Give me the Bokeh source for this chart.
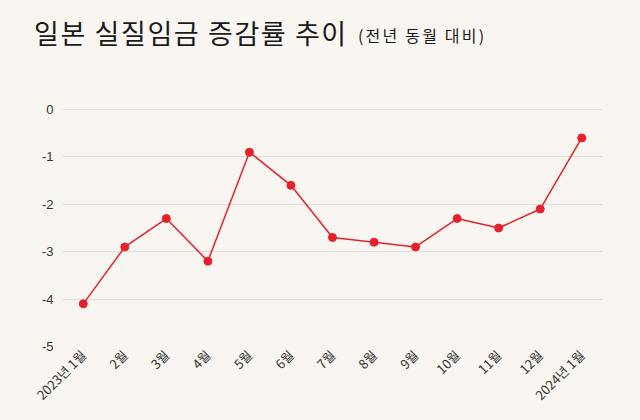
import numpy as np
from bokeh.plotting import figure
from bokeh.models import Range1d, FixedTicker, Span, Div
from bokeh.layouts import column
from bokeh.embed import file_html
from bokeh.resources import INLINE

months = ["2023년 1월", "2월", "3월", "4월", "5월", "6월", "7월", "8월", "9월", "10월", "11월", "12월", "2024년 1월"]
values = [-4.1, -2.9, -2.3, -3.2, -0.9, -1.6, -2.7, -2.8, -2.9, -2.3, -2.5, -2.1, -0.6]
y_ticks = [0, -1, -2, -3, -4, -5]
title_text = "일본 실질임금 증감률 추이"
subtitle_text = "(전년 동월 대비)"

BG = "#f9f6f1"
RED = "#e8202a"
KFONT = "Noto Sans CJK KR"
HEAD_H = 80

head = Div(width=640, height=HEAD_H, margin=0, text=(
    f'<div style="position:relative;width:640px;height:{HEAD_H}px;background:{BG};'
    f'font-family:\'{KFONT}\';color:#1a1a1a;overflow:hidden;">'
    f'<span style="position:absolute;left:34px;top:19px;font-size:27px;line-height:27px;'
    f'letter-spacing:1.6px;white-space:nowrap;">{title_text}</span>'
    f'<span style="position:absolute;left:358px;top:27px;font-size:16px;line-height:16px;'
    f'letter-spacing:2.2px;white-space:nowrap;">{subtitle_text}</span>'
    '</div>'))
head.styles = {"background-color": BG}

xs = list(range(len(months)))

p = figure(width=640, height=420 - HEAD_H, output_backend="svg", toolbar_location=None,
           x_range=Range1d(-0.5, len(months) - 0.5), y_range=Range1d(-5, 0),
           min_border_left=62, min_border_right=38, min_border_top=109 - HEAD_H,
           min_border_bottom=74)
p.background_fill_color = BG
p.border_fill_color = BG
p.outline_line_color = None

p.xgrid.grid_line_color = None
p.ygrid.grid_line_color = "#e0ddd8"
p.ygrid.grid_line_width = 1
p.add_layout(Span(location=0, dimension="width", line_color="#cfccc7", line_width=1))

p.line(xs, values, line_color=RED, line_width=1.5)
p.scatter(xs, values, size=8, fill_color=RED, line_color=RED)

p.xaxis.ticker = FixedTicker(ticks=xs)
p.xaxis.major_label_overrides = {i: m for i, m in enumerate(months)}
p.xaxis.major_label_orientation = np.pi / 4
p.xaxis.axis_line_color = None
p.xaxis.major_tick_line_color = None
p.xaxis.minor_tick_line_color = None
p.xaxis.major_tick_out = 0
p.xaxis.major_tick_in = 0
p.xaxis.major_label_standoff = 6
p.xaxis.major_label_text_font = KFONT
p.xaxis.major_label_text_font_size = "13px"
p.xaxis.major_label_text_color = "#333333"

p.yaxis.ticker = FixedTicker(ticks=y_ticks)
p.yaxis.major_label_overrides = {t: str(t) for t in y_ticks}
p.yaxis.axis_line_color = None
p.yaxis.major_tick_line_color = None
p.yaxis.minor_tick_line_color = None
p.yaxis.major_tick_out = 0
p.yaxis.major_tick_in = 0
p.yaxis.major_label_text_font = "Liberation Sans"
p.yaxis.major_label_text_font_size = "13px"
p.yaxis.major_label_text_color = "#333333"
p.yaxis.major_label_standoff = 9

layout = column(head, p, spacing=0)
layout.styles = {"background-color": BG}
open("out.html", "w").write(file_html(layout, INLINE))
